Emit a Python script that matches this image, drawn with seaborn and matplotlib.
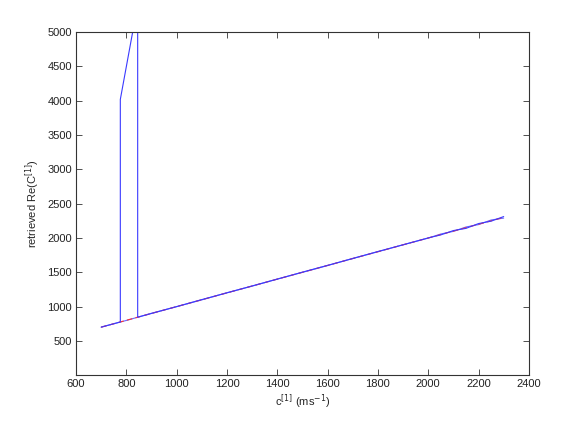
import matplotlib
matplotlib.use("Agg")
import matplotlib.pyplot as plt
import seaborn as sns
import pandas as pd

# reference (true) values
ref_x = [700, 2300]
ref_y = [700, 2300]

# retrieved values, trace 1 (with spurious branch)
ret1_x = [700, 740, 776, 776, 845, 845, 900, 1000, 1100, 1200, 1300, 1400, 1500,
          1600, 1700, 1800, 1900, 2000, 2050, 2100, 2150, 2200, 2250, 2300]
ret1_y = [700, 740, 776, 4020, 5400, 845, 900, 1000, 1102, 1200, 1301, 1400, 1502,
          1601, 1700, 1803, 1900, 2001, 2045, 2108, 2140, 2210, 2245, 2312]

# retrieved values, trace 2
ret2_x = [700, 800, 900, 1000, 1100, 1200, 1300, 1400, 1500, 1600, 1700, 1800,
          1900, 2000, 2050, 2100, 2150, 2200, 2250, 2300]
ret2_y = [702, 798, 903, 999, 1098, 1203, 1298, 1402, 1499, 1598, 1703, 1799,
          1902, 1998, 2058, 2096, 2160, 2195, 2262, 2290]

sns.set_theme(style="white")
plt.rcParams['font.family'] = ['Liberation Sans', 'DejaVu Sans']

fig = plt.figure(figsize=(5.85, 4.23), dpi=100)
ax = fig.add_axes([0.13, 0.113, 0.774, 0.811])

ref_df = pd.DataFrame({"x": ref_x, "y": ref_y})
ret1_df = pd.DataFrame({"x": ret1_x, "y": ret1_y})
ret2_df = pd.DataFrame({"x": ret2_x, "y": ret2_y})

sns.lineplot(data=ret2_df, x="x", y="y", sort=False, estimator=None, ax=ax,
             color="#6666ff", linewidth=0.8)
sns.lineplot(data=ref_df, x="x", y="y", sort=False, estimator=None, ax=ax,
             color="#ff3030", linewidth=0.8, linestyle=(0, (5, 3)))
sns.lineplot(data=ret1_df, x="x", y="y", sort=False, estimator=None, ax=ax,
             color="#3a3aff", linewidth=0.8)

ax.set_xlim(600, 2400)
ax.set_ylim(0, 5000)
ax.set_xticks(range(600, 2401, 200))
ax.set_yticks(range(500, 5001, 500))
ax.tick_params(direction="in", length=4, width=0.6, labelsize=8, color="#333333",
               labelcolor="#222222",
               top=True, right=True, bottom=True, left=True, pad=3)
for s in ax.spines.values():
    s.set_color("#333333")
    s.set_linewidth(0.8)
ax.set_xlabel(r"c$^{[1]}$ (ms$^{-1}$)", fontsize=8, labelpad=2)
ax.set_ylabel(r"retrieved Re(C$^{[1]}$)", fontsize=8, labelpad=4)

fig.savefig("out.png", dpi=100)
